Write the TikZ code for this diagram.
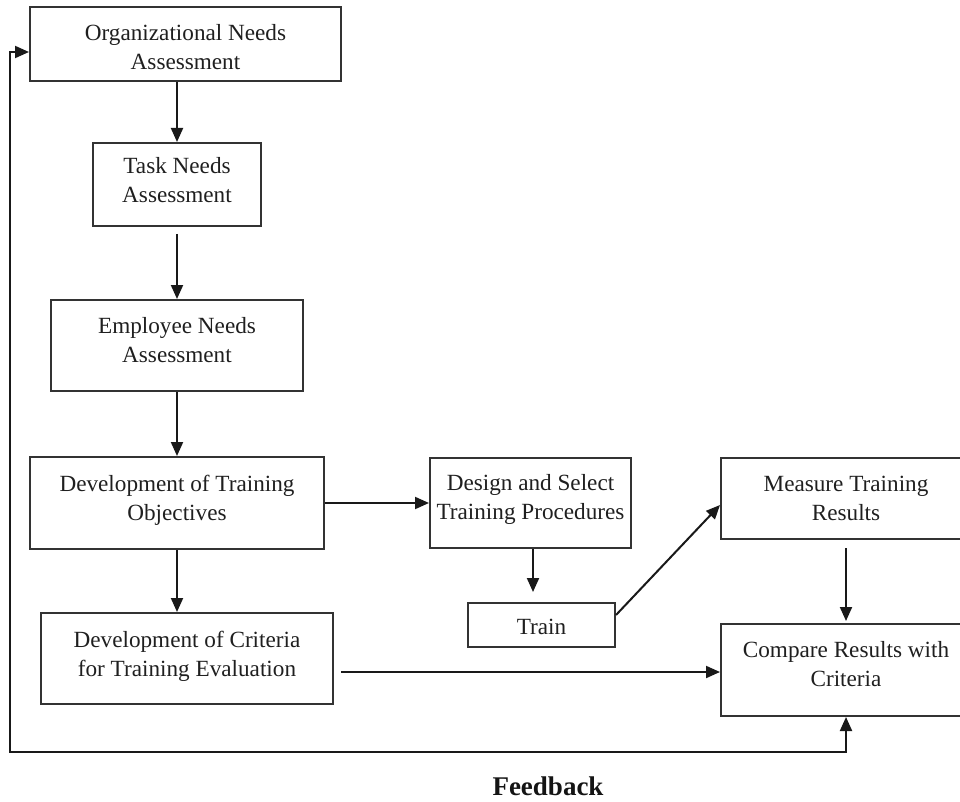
\documentclass[tikz,border=0pt]{standalone}
\usepackage{fontspec}
\setmainfont{Liberation Serif}
\usetikzlibrary{arrows.meta,calc}

\tikzset{
  frame/.style={draw=black!80, line width=2pt, inner sep=0pt},
  boxtext/.style={align=center, inner sep=0pt, text=black!88,
                  font=\fontsize{23.2}{29}\selectfont},
  flow/.style={line width=2pt, draw=black!90, -{Triangle[length=14pt,width=12pt]}},
  both/.style={line width=2pt, draw=black!90,
               {Triangle[length=14pt,width=12pt]}-{Triangle[length=14pt,width=12pt]}}
}

% frame node plus its text: name, x, y, width, height, text offset, text
\newcommand{\flowbox}[7]{%
  \node[frame, minimum width=#4pt, minimum height=#5pt] (#1) at (#2,#3) {};
  \node[boxtext] (#1-t) at (#2,#3+#6) {#7};}

\begin{document}
\begin{tikzpicture}[x=1pt, y=-1pt]
  \useasboundingbox (0,0) rectangle (960,802);
  \clip (0,0) rectangle (960,802);

  % left column: needs assessment chain
  \flowbox{org}{185.5}{44}{311}{74}{3.5}{Organizational Needs\\Assessment}
  \flowbox{task}{177}{184.5}{168}{83}{-4}{Task Needs\\Assessment}
  \flowbox{emp}{177}{345.5}{252}{91}{-5}{Employee Needs\\Assessment}
  \flowbox{obj}{177}{503}{294}{92}{-3}{Development of Training\\Objectives}
  \flowbox{crit}{187}{658.5}{292}{91}{-2.5}{Development of Criteria\\for Training Evaluation}

  % middle column: training
  \flowbox{design}{530.5}{503}{201}{90}{-4}{Design and Select\\Training Procedures}
  \flowbox{train}{541.5}{625}{147}{44}{1.5}{Train}

  % right column: evaluation
  \flowbox{measure}{846}{498.5}{250}{81}{0}{Measure Training\\Results}
  \flowbox{cmp}{846}{670}{250}{92}{-6}{Compare Results with\\Criteria}

  \node[font=\fontsize{27}{32}\selectfont\bfseries, text=black!92, inner sep=0pt]
    (fb) at (548,786.5) {Feedback};

  % connectors
  \draw[flow] (org.south -| 177,0) -- (task.north);
  \draw[flow] ($(task.south)+(0,7)$) -- (emp.north);
  \draw[flow] (emp.south) -- (obj.north);
  \draw[flow] (obj.south) -- (obj.south |- crit.north);
  \draw[flow] (obj.east) -- (design.west |- obj.east);
  \draw[flow] (design.south -| 533,0) -- ($(train.north -| 533,0)+(0,-10)$);
  \draw[flow] ($(train.east)+(0,-10)$) -- ($(measure.west)+(0,6.5)$);
  \draw[flow] ($(measure.south)+(0,8)$) -- ($(cmp.north)+(0,-2)$);
  \draw[flow] ($(crit.east)+(7,13.5)$) -- (cmp.west |- 0,672);

  % feedback loop
  \coordinate (fbl) at (10,752);
  \coordinate (fbt) at (10,52);
  \draw[both] (org.west |- fbt) -- (fbt) -- (fbl) -| (cmp.south);
\end{tikzpicture}
\end{document}
